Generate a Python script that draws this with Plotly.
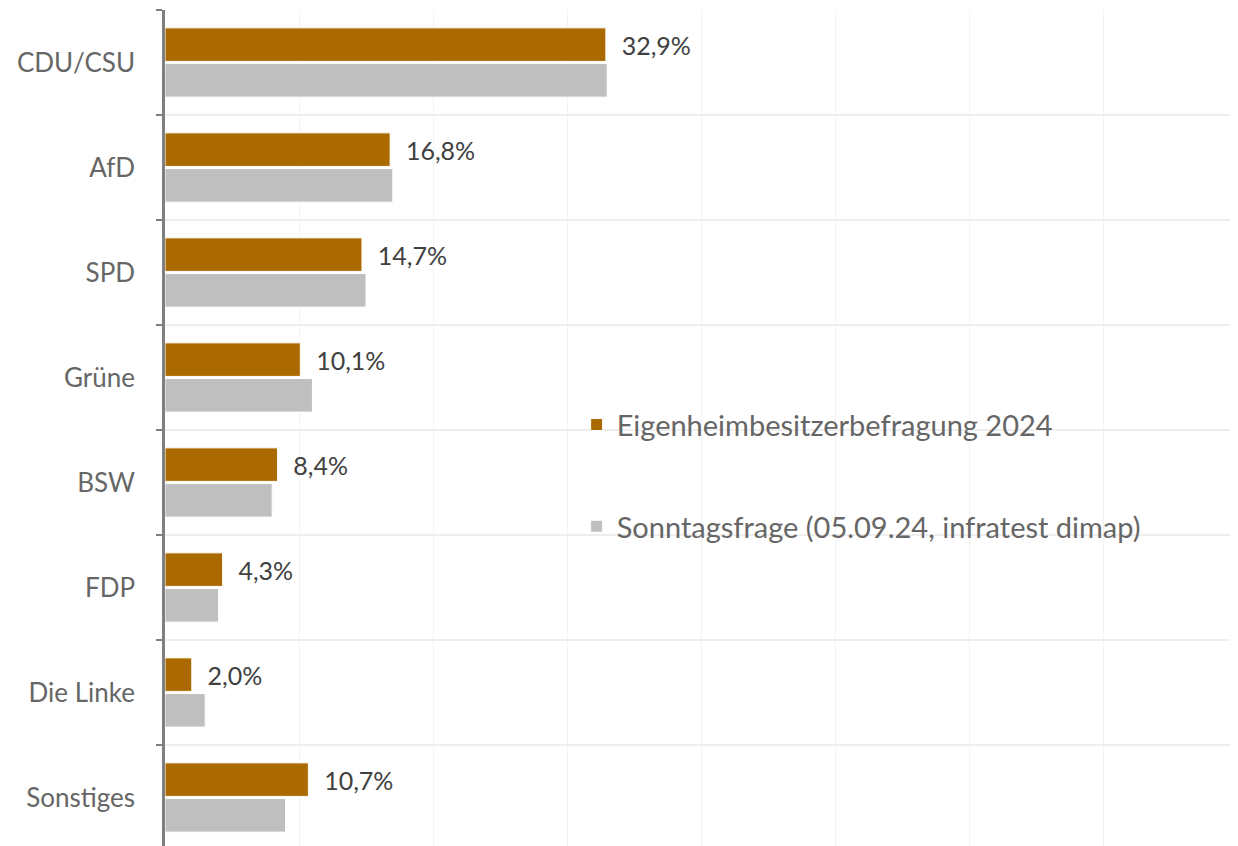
import plotly.graph_objects as go

categories = ["CDU/CSU", "AfD", "SPD", "Grüne", "BSW", "FDP", "Die Linke", "Sonstiges"]
eigenheim_2024 = [32.9, 16.8, 14.7, 10.1, 8.4, 4.3, 2.0, 10.7]
sonntagsfrage = [33, 17, 15, 11, 8, 4, 3, 9]
series_names = ["Eigenheimbesitzerbefragung 2024", "Sonntagsfrage (05.09.24, infratest dimap)"]

ORANGE = "#AB6A00"
GREY = "#BFBFBF"
FONT = "Lato, 'Open Sans', sans-serif"

labels = ["\u00a0\u00a0" + f"{v:.1f}".replace(".", ",") + "%" for v in eigenheim_2024]

fig = go.Figure()
fig.add_trace(go.Bar(
    y=categories, x=eigenheim_2024, orientation="h", name=series_names[0],
    marker=dict(color=ORANGE, line=dict(color="white", width=1)),
    text=labels, textposition="outside", constraintext="none", cliponaxis=False,
    textfont=dict(family=FONT, size=25, color="#404040"),
    legendgroup="a", hoverinfo="skip",
))
fig.add_trace(go.Bar(
    y=categories, x=sonntagsfrage, orientation="h", name=series_names[1],
    marker=dict(color=GREY, line=dict(color="white", width=1)),
    legendgroup="b", hoverinfo="skip",
))

fig.update_layout(
    width=1230, height=838,
    margin=dict(l=157, r=1, t=2, b=0, autoexpand=False),
    paper_bgcolor="white", plot_bgcolor="white",
    barmode="group", bargap=0.32, bargroupgap=0.06,
    font=dict(family=FONT, size=24, color="#666666"),
    showlegend=True,
    legend=dict(
        x=0.384, xanchor="left",
        y=0.5345, yanchor="top",
        traceorder="grouped", tracegroupgap=61,
        font=dict(family=FONT, size=29, color="#666666"),
        bgcolor="rgba(0,0,0,0)",
    ),
)
fig.update_xaxes(
    range=[0, 80], dtick=10, showticklabels=False, ticks="",
    showgrid=True, gridcolor="#F3F3F3", gridwidth=1, zeroline=False,
    showline=False, automargin=False,
)
fig.update_yaxes(
    type="category", categoryorder="array", categoryarray=categories,
    range=[7.462, -0.5], tickson="boundaries", ticks="outside", ticklen=6,
    tickcolor="#7F7F7F", tickwidth=2,
    showline=True, linecolor="#7F7F7F", linewidth=2.5,
    showgrid=True, gridcolor="#EEEEEE", gridwidth=1.5,
    ticklabelstandoff=22, automargin=False,
    tickfont=dict(family=FONT, size=26, color="#666666"),
)

fig.write_html("out.html")
